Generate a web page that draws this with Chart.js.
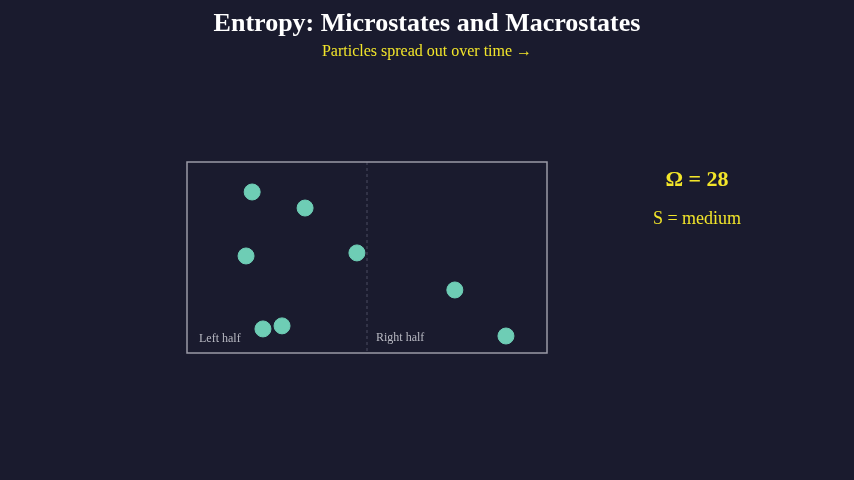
<!DOCTYPE html>
<html><head><meta charset="utf-8">
<script src="https://cdn.jsdelivr.net/npm/chart.js@4"></script>
<style>html,body{margin:0;padding:0;background:#1a1b2e;}#c{display:block}</style>
</head><body>
<canvas id="c" width="854" height="480"></canvas>
<script>
const particleX = [18.1, 32.8, 16.4, 47.2, 74.4, 88.6, 21.1, 26.4];
const particleY = [84.3, 75.9, 50.8, 52.4, 33.0, 8.9, 12.6, 14.2];
const titleText = "Entropy: Microstates and Macrostates";
const subtitleText = "Particles spread out over time \u2192";
const omegaText = "\u03A9 = 28";
const entropyText = "S = medium";
const halfLabels = ["Left half", "Right half"];

const deco = {
  id: 'deco',
  beforeDraw(chart) {
    const {ctx, chartArea: a, scales: {x, y}} = chart;
    ctx.save();
    ctx.fillStyle = '#1a1b2e';
    ctx.fillRect(0, 0, chart.width, chart.height);
    ctx.setLineDash([3, 3]);
    ctx.strokeStyle = '#4a4c60';
    ctx.lineWidth = 1;
    const mx = x.getPixelForValue(50);
    ctx.beginPath(); ctx.moveTo(mx, a.top); ctx.lineTo(mx, a.bottom); ctx.stroke();
    ctx.setLineDash([]);
    ctx.strokeStyle = '#9a9ba6';
    ctx.lineWidth = 1.5;
    ctx.strokeRect(a.left, a.top, a.right - a.left, a.bottom - a.top);
    ctx.fillStyle = '#b8b9c2';
    ctx.font = '12px "Liberation Serif", serif';
    ctx.textBaseline = 'middle';
    ctx.textAlign = 'left';
    ctx.fillText(halfLabels[0], a.left + 12, a.bottom - 14);
    ctx.fillText(halfLabels[1], mx + 9, a.bottom - 15);
    ctx.restore();
  },
  afterDraw(chart) {
    const ctx = chart.ctx;
    ctx.save();
    ctx.textAlign = 'center';
    ctx.textBaseline = 'middle';
    ctx.fillStyle = '#ffffff';
    ctx.font = 'bold 26px "Liberation Serif", serif';
    ctx.fillText(titleText, 427, 24);
    ctx.fillStyle = '#f2e52a';
    ctx.font = '16px "Liberation Serif", serif';
    ctx.fillText(subtitleText, 427, 52);
    ctx.font = 'bold 22px "Liberation Serif", serif';
    ctx.fillText(omegaText, 697, 180);
    ctx.font = '18px "Liberation Serif", serif';
    ctx.fillText(entropyText, 697, 219);
    ctx.restore();
  }
};

new Chart(document.getElementById('c'), {
  type: 'scatter',
  data: { datasets: [{
    data: particleX.map((v, i) => ({x: v, y: particleY[i]})),
    backgroundColor: '#6ecdb5', borderColor: '#6ecdb5',
    pointRadius: 8, pointHoverRadius: 8
  }]},
  options: {
    responsive: false, animation: false,
    layout: { padding: { left: 187, right: 307, top: 162, bottom: 127 } },
    plugins: { legend: { display: false }, tooltip: { enabled: false } },
    scales: {
      x: { min: 0, max: 100, display: false },
      y: { min: 0, max: 100, display: false }
    }
  },
  plugins: [deco]
});
</script>
</body></html>
